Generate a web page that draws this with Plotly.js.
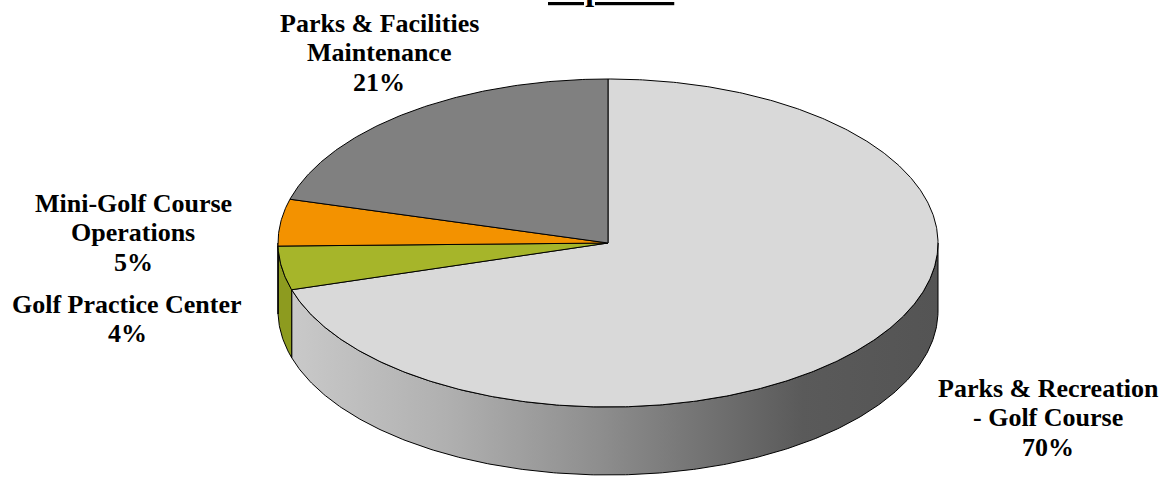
<!DOCTYPE html>
<html>
<head>
<meta charset="utf-8">
<script src="https://cdn.plot.ly/plotly-3.0.1.min.js"></script>
<style>
  html, body { margin: 0; padding: 0; background: #ffffff; }
  #chart { width: 1168px; height: 477px; }
</style>
</head>
<body>
<div id="chart"></div>
<script>
// ---- Data ----
const chartTitle = "Expenses";
const categories = [
  "Parks & Recreation<br>- Golf Course",
  "Golf Practice Center",
  "Mini-Golf Course<br>Operations",
  "Parks & Facilities<br>Maintenance"
];
const values = [70.4, 4.3, 4.6, 20.7];

// ---- Styles ----
const topColors = ["#d9d9d9", "#a6b52a", "#f39200", "#808080"];
const sideColors = ["#9a9a9a", "#8d9b1f", "#c47500", "#666666"];
const sideGradient = [
  [0, "#c9c9c9"], [0.24, "#b0b0b0"], [0.475, "#8e8e8e"],
  [0.63, "#747474"], [0.79, "#5a5a5a"], [1, "#545454"]
];
// label placement in pixels: [center x, baseline of first line]
const labelPos = [[1048, 397], [127, 313], [133, 212], [379, 32]];
const LINE_GAP = 29.5;

// ---- Geometry (pixel-mapped axes) ----
const W = 1168, H = 477, CX = 608, CY = 243;
const RX = 330, RY = 164, DEPTH = 68;
const FONT = "Liberation Serif, Times New Roman, serif";
const FONT_SIZE = 26;

function pt(theta, drop) {
  return [RX * Math.sin(theta), RY * Math.cos(theta) - drop];
}
function arc(a, b, drop) {
  const xs = [], ys = [];
  const n = Math.max(2, Math.ceil(Math.abs(b - a) / (Math.PI / 360)));
  for (let i = 0; i <= n; i++) {
    const p = pt(a + (b - a) * i / n, drop);
    xs.push(p[0]); ys.push(p[1]);
  }
  return [xs, ys];
}

const total = values.reduce((s, v) => s + v, 0);
const bounds = [];
let acc = 0;
values.forEach(v => {
  const a = acc / total * 2 * Math.PI;
  acc += v;
  const b = acc / total * 2 * Math.PI;
  bounds.push([a, b]);
});

const traces = [];
// side walls (front half: theta between 90deg and 270deg)
bounds.forEach((ab, i) => {
  const lo = Math.max(ab[0], Math.PI / 2);
  const hi = Math.min(ab[1], 3 * Math.PI / 2);
  if (hi <= lo) return;
  const top = arc(lo, hi, 0);
  const bot = arc(hi, lo, DEPTH);
  const tr = {
    type: "scatter", mode: "lines",
    x: top[0].concat(bot[0], [top[0][0]]),
    y: top[1].concat(bot[1], [top[1][0]]),
    fill: "toself",
    fillcolor: sideColors[i],
    line: { color: "#000000", width: 1 },
    hoverinfo: "skip", showlegend: false
  };
  if (i === 0) {
    tr.fillgradient = { type: "horizontal", colorscale: sideGradient };
  }
  traces.push(tr);
});
// top faces
bounds.forEach((ab, i) => {
  const e = arc(ab[0], ab[1], 0);
  traces.push({
    type: "scatter", mode: "lines",
    x: [0].concat(e[0], [0]),
    y: [0].concat(e[1], [0]),
    fill: "toself",
    fillcolor: topColors[i],
    line: { color: "#000000", width: 1 },
    name: categories[i].replace("<br>", " "),
    hoverinfo: "name", showlegend: false
  });
});

// labels: one annotation per line so line spacing matches the reference
const annotations = [];
categories.forEach((c, i) => {
  const lines = c.split("<br>").concat([Math.round(values[i] / total * 100) + "%"]);
  lines.forEach((ln, k) => {
    const baseline = labelPos[i][1] + k * LINE_GAP;
    annotations.push({
      x: labelPos[i][0] - CX, y: CY - (baseline - 0.3375 * FONT_SIZE),
      xref: "x", yref: "y", showarrow: false,
      xanchor: "center", yanchor: "middle", align: "center",
      text: ln,
      font: { family: FONT, size: FONT_SIZE, color: "#000000", weight: "bold" }
    });
  });
});
annotations.push({
  x: 611 - CX, y: CY - 9, xref: "x", yref: "y", showarrow: false,
  xanchor: "center", yanchor: "bottom",
  text: "<u>" + chartTitle + "</u>",
  font: { family: FONT, size: 32, color: "#000000", weight: "bold" }
});

const layout = {
  width: W, height: H,
  margin: { l: 0, r: 0, t: 0, b: 0 },
  paper_bgcolor: "#ffffff", plot_bgcolor: "#ffffff",
  xaxis: { range: [-CX, W - CX], visible: false, fixedrange: true },
  yaxis: { range: [-(H - CY), CY], visible: false, fixedrange: true },
  showlegend: false,
  annotations: annotations
};

Plotly.newPlot("chart", traces, layout, { displayModeBar: false, staticPlot: true });
</script>
</body>
</html>
